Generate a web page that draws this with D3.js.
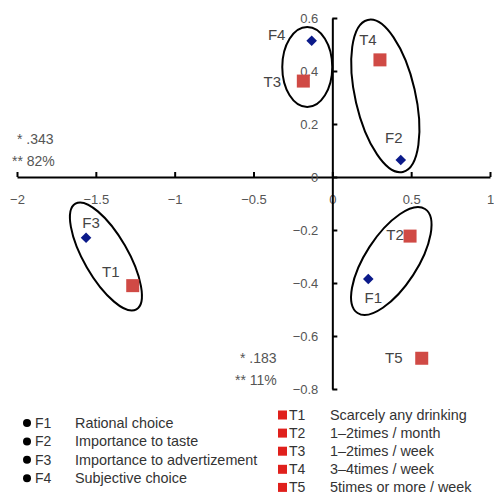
<!DOCTYPE html>
<html>
<head>
<meta charset="utf-8">
<script src="https://cdn.jsdelivr.net/npm/d3@7"></script>
<style>
  html, body { margin: 0; padding: 0; background: #fff; }
  svg { display: block; font-family: "Liberation Sans", Arial, sans-serif; }
</style>
</head>
<body>
<svg id="chart" width="494" height="496"></svg>
<script>
// Factor items (F) and drinking-frequency groups (T) on two dimensions
const factorNames = ["F1", "F2", "F3", "F4"];
const factorX = [0.228, 0.434, -1.562, -0.131];
const factorY = [-0.385, 0.064, -0.229, 0.514];
const factorDesc = ["Rational choice", "Importance to taste", "Importance to advertizement", "Subjective choice"];

const groupNames = ["T1", "T2", "T3", "T4", "T5"];
const groupX = [-1.266, 0.493, -0.184, 0.302, 0.567];
const groupY = [-0.410, -0.223, 0.362, 0.442, -0.684];
const groupDesc = ["Scarcely any drinking", "1\u20132times / month", "1\u20132times / week", "3\u20134times / week", "5times or more / week"];

const xTicks = [-2, -1.5, -1, -0.5, 0, 0.5, 1];
const yTicks = [0.6, 0.4, 0.2, 0, -0.2, -0.4, -0.6, -0.8];

// Dimension statistics
const dim1Stats = ["* .343", "** 82%"];
const dim2Stats = ["* .183", "** 11%"];

// Clusters: centre in data units
const clusterCx = [-0.159, 0.336, -1.436, 0.374];
const clusterCy = [0.415, 0.306, -0.300, -0.317];

const svg = d3.select("#chart");
const x = d3.scaleLinear().domain([-2, 1]).range([17, 490]);
const y = d3.scaleLinear().domain([-0.8, 0.6]).range([389, 18]);

const fmt = d => d3.format("")(d).replace("-", "\u2212");

// x axis along y = 0
const gx = svg.append("g").attr("transform", `translate(0,${y(0)})`)
  .call(d3.axisBottom(x).tickValues(xTicks).tickSizeInner(-5).tickSizeOuter(0).tickPadding(18).tickFormat(fmt));
// y axis along x = 0
const gy = svg.append("g").attr("transform", `translate(${x(0)},0)`)
  .call(d3.axisLeft(y).tickValues(yTicks).tickSizeInner(-5).tickSizeOuter(0).tickPadding(14).tickFormat(fmt));

[gx, gy].forEach(g => {
  g.select(".domain").attr("stroke", "#000").attr("stroke-width", 2);
  g.selectAll(".tick line").attr("stroke", "#000").attr("stroke-width", 2);
  g.selectAll(".tick text").attr("fill", "#555").attr("font-size", 13)
    .attr("font-family", "Liberation Sans, Arial, sans-serif");
});

// Cluster ellipses (pixel semi-axes and tilt)
const clusterShape = [
  { rx: 25, ry: 40, rot: 0 },
  { rx: 30, ry: 78, rot: -13 },
  { rx: 22, ry: 61, rot: -30 },
  { rx: 26, ry: 62, rot: 33 }
];
svg.append("g").selectAll("ellipse")
  .data(clusterCx.map((cx, i) => ({ cx, cy: clusterCy[i], ...clusterShape[i] })))
  .join("ellipse")
  .attr("transform", d => `translate(${x(d.cx)},${y(d.cy)}) rotate(${d.rot})`)
  .attr("rx", d => d.rx).attr("ry", d => d.ry)
  .attr("fill", "none").attr("stroke", "#000").attr("stroke-width", 2);

// Label placement relative to each marker (px)
const labelOffset = {
  F1: [5, 18], F2: [-7, -23], F3: [5, -15], F4: [-35, -6],
  T1: [-22, -14], T2: [-15, -2], T3: [-31, 0], T4: [-12, -20], T5: [-28, -1]
};

const factors = factorNames.map((n, i) => ({ name: n, x: factorX[i], y: factorY[i] }));
const groups = groupNames.map((n, i) => ({ name: n, x: groupX[i], y: groupY[i] }));

svg.append("g").selectAll("path")
  .data(factors).join("path")
  .attr("transform", d => `translate(${x(d.x)},${y(d.y)}) rotate(45)`)
  .attr("d", d3.symbol(d3.symbolSquare, 56)())
  .attr("fill", "#0b1a8a");

svg.append("g").selectAll("rect")
  .data(groups).join("rect")
  .attr("x", d => x(d.x) - 6.5).attr("y", d => y(d.y) - 6.5)
  .attr("width", 13).attr("height", 13)
  .attr("fill", "#d04a45");

svg.append("g").selectAll("text")
  .data(factors.concat(groups)).join("text")
  .attr("x", d => x(d.x) + labelOffset[d.name][0])
  .attr("y", d => y(d.y) + labelOffset[d.name][1])
  .attr("text-anchor", "middle").attr("dominant-baseline", "central")
  .attr("font-size", 15).attr("fill", "#444")
  .text(d => d.name);

// Dimension statistics
const statStyle = sel => sel.attr("font-size", 14).attr("fill", "#555");
svg.append("g").selectAll("text").data(dim1Stats).join("text")
  .attr("x", (d, i) => i === 0 ? 17 : 12).attr("y", (d, i) => 144 + i * 22)
  .call(statStyle).text(d => d);
svg.append("g").selectAll("text").data(dim2Stats).join("text")
  .attr("x", (d, i) => i === 0 ? 240 : 235).attr("y", (d, i) => 363 + i * 22)
  .call(statStyle).text(d => d);

// Legends
const legF = svg.append("g").selectAll("g")
  .data(factorNames.map((n, i) => ({ name: n, desc: factorDesc[i] })))
  .join("g").attr("transform", (d, i) => `translate(0,${423 + i * 18.4})`);
legF.append("circle").attr("cx", 27).attr("cy", 0).attr("r", 4).attr("fill", "#000");
legF.append("text").attr("x", 35).attr("dominant-baseline", "central")
  .attr("font-size", 14).attr("fill", "#333").text(d => d.name);
legF.append("text").attr("x", 75).attr("dominant-baseline", "central")
  .attr("font-size", 14.4).attr("fill", "#333").text(d => d.desc);

const legT = svg.append("g").selectAll("g")
  .data(groupNames.map((n, i) => ({ name: n, desc: groupDesc[i] })))
  .join("g").attr("transform", (d, i) => `translate(0,${415 + i * 18.1})`);
legT.append("rect").attr("x", 278).attr("y", -4.5).attr("width", 9).attr("height", 9).attr("fill", "#e0201c");
legT.append("text").attr("x", 289).attr("dominant-baseline", "central")
  .attr("font-size", 14).attr("fill", "#333").text(d => d.name);
legT.append("text").attr("x", 330).attr("dominant-baseline", "central")
  .attr("font-size", 14.4).attr("fill", "#333").text(d => d.desc);
</script>
</body>
</html>
